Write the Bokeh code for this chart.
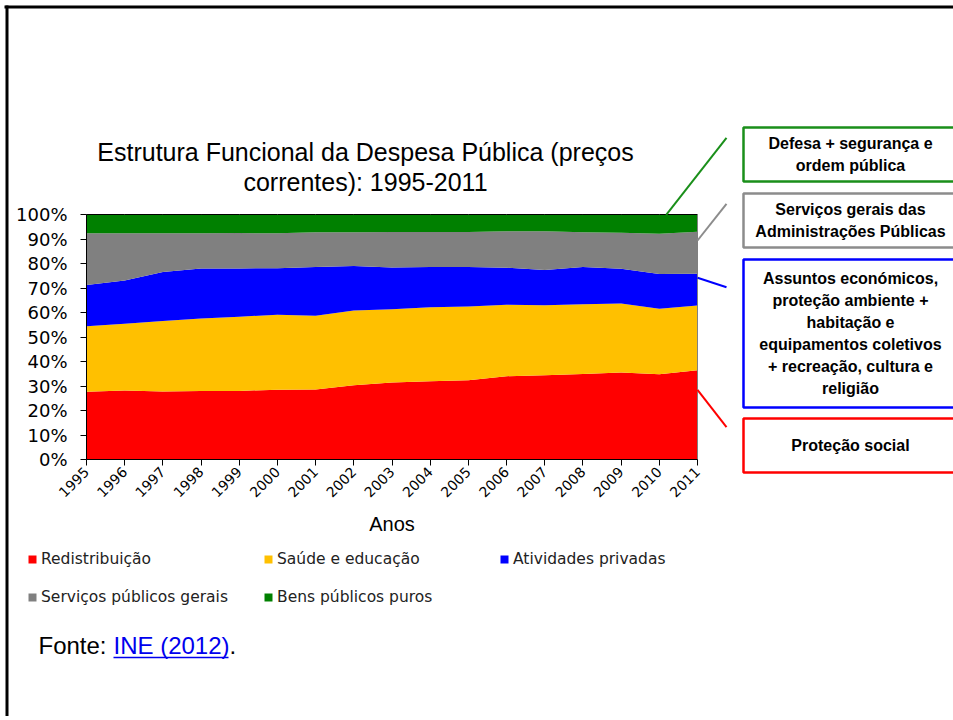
import math
from bokeh.plotting import figure
from bokeh.models import (Label, Legend, LegendItem, Arrow, PolyAnnotation,
                          FixedTicker, PrintfTickFormatter, Range1d, ColumnDataSource)
from bokeh.embed import file_html
from bokeh.resources import INLINE

# ---------------- data (shares of total, %) ----------------
years = [1995, 1996, 1997, 1998, 1999, 2000, 2001, 2002, 2003,
         2004, 2005, 2006, 2007, 2008, 2009, 2010, 2011]
redistribuicao = [27.7, 28.2, 27.8, 28.0, 28.0, 28.5, 28.6, 30.3, 31.4,
                  31.9, 32.3, 34.0, 34.4, 34.9, 35.5, 34.8, 36.4]
saude_educacao = [26.7, 27.2, 28.7, 29.6, 30.3, 30.6, 30.1, 30.5, 29.9,
                  30.2, 30.2, 29.2, 28.6, 28.5, 28.2, 26.7, 26.5]
atividades_privadas = [16.8, 17.7, 20.0, 20.4, 19.7, 19.0, 19.9, 18.2, 17.1,
                       16.5, 16.1, 15.1, 14.3, 15.2, 14.2, 14.2, 12.9]
servicos_publicos = [21.1, 19.2, 15.8, 14.3, 14.4, 14.2, 14.2, 13.8, 14.5,
                     14.3, 14.3, 14.9, 15.9, 14.2, 14.7, 16.4, 17.2]
bens_publicos = [7.7, 7.7, 7.7, 7.7, 7.6, 7.7, 7.2, 7.2, 7.1,
                 7.1, 7.1, 6.8, 6.8, 7.2, 7.4, 7.9, 7.0]

series_names = ["Redistribuição", "Saúde e educação", "Atividades privadas",
                "Serviços públicos gerais", "Bens públicos puros"]
series_keys = ["red", "sau", "ati", "ser", "ben"]
series_colors = ["#FF0000", "#FFC000", "#0000FF", "#808080", "#008000"]
y_ticks = [0, 10, 20, 30, 40, 50, 60, 70, 80, 90, 100]

title_lines = ["Estrutura Funcional da Despesa Pública (preços", "correntes): 1995-2011"]
callouts = [
    (["Defesa + segurança e", "ordem pública"], "#1a8f1a"),
    (["Serviços gerais das", "Administrações Públicas"], "#8c8c8c"),
    (["Assuntos económicos,", "proteção ambiente +", "habitação e",
      "equipamentos coletivos", "+ recreação, cultura e", "religião"], "#0000FF"),
    (["Proteção social"], "#FF0000"),
]

# ---------------- layout (page pixels) ----------------
W, H = 953, 716
PL, PR, PT, PB = 86, 697, 214, 459     # plot area edges on the page

ppx = (PR - PL) / (years[-1] - years[0])   # pixels per year
ppy = (PB - PT) / (y_ticks[-1] - y_ticks[0])  # pixels per percent
x_range = Range1d(years[0] - PL / ppx, years[0] + (W - PL) / ppx)
y_range = Range1d(y_ticks[0] - (H - PB) / ppy, y_ticks[0] + PB / ppy)

def sx(X):
    return X

def sy(Y):
    return H - Y

p = figure(width=W, height=H, output_backend="svg", toolbar_location=None,
           x_range=x_range, y_range=y_range,
           min_border=0, min_border_left=0, min_border_right=0,
           min_border_top=0, min_border_bottom=0)
p.background_fill_color = "white"
p.border_fill_color = "white"
p.outline_line_color = None
p.xgrid.visible = False
p.ygrid.visible = False

totals = [a + b + c + d + e for a, b, c, d, e in zip(redistribuicao, saude_educacao,
                                                      atividades_privadas, servicos_publicos,
                                                      bens_publicos)]
src = ColumnDataSource(dict(year=years, red=redistribuicao, sau=saude_educacao,
                            ati=atividades_privadas, ser=servicos_publicos,
                            ben=bens_publicos, tot=totals))
rends = p.varea_stack(stackers=series_keys, x="year", color=series_colors, source=src)
p.line(x="year", y="tot", source=src, line_color="black", line_width=1)
p.segment(x0=[years[-1]], y0=[0], x1=[years[-1]], y1=[totals[-1]],
          line_color="#808080", line_width=1)

# axes (drawn at the plot-area edges inside the canvas)
p.yaxis.fixed_location = years[0]
p.yaxis.bounds = (y_ticks[0], y_ticks[-1])
p.yaxis.ticker = FixedTicker(ticks=y_ticks)
p.yaxis.formatter = PrintfTickFormatter(format="%d%%")
p.yaxis.minor_tick_line_color = None
p.yaxis.major_tick_in = 0
p.yaxis.major_tick_out = 6
p.yaxis.major_label_standoff = 13
p.yaxis.major_label_text_font = "DejaVu Sans"
p.yaxis.major_label_text_font_size = "18px"
p.yaxis.major_label_text_color = "black"
p.yaxis.axis_line_color = "black"

p.xaxis.fixed_location = y_ticks[0]
p.xaxis.bounds = (years[0], years[-1])
p.xaxis.ticker = FixedTicker(ticks=years)
p.xaxis.minor_tick_line_color = None
p.xaxis.major_tick_in = 0
p.xaxis.major_tick_out = 6
p.xaxis.major_label_orientation = math.pi / 4
p.xaxis.major_label_standoff = 4
p.xaxis.major_label_text_font = "DejaVu Sans"
p.xaxis.major_label_text_font_size = "14px"
p.xaxis.major_label_text_color = "black"
p.xaxis.axis_line_color = "black"
p.xaxis.axis_label = "Anos"
p.xaxis.axis_label_text_font = "Liberation Sans"
p.xaxis.axis_label_text_font_size = "20px"
p.xaxis.axis_label_text_font_style = "normal"
p.xaxis.axis_label_text_color = "black"
p.xaxis.axis_label_standoff = 8

# legend
legend = Legend(items=[LegendItem(label=n, renderers=[r]) for n, r in zip(series_names, rends)],
                location=(sx(27), sy(607)), orientation="horizontal", ncols=3,
                glyph_width=10, glyph_height=10, label_standoff=4, label_width=204,
                label_height=20, spacing=18, padding=0, margin=0,
                border_line_color=None, background_fill_alpha=0,
                label_text_font="DejaVu Sans", label_text_font_size="15.5px",
                label_text_color="#222222")
p.add_layout(legend)

# title
for i, t in enumerate(title_lines):
    p.add_layout(Label(x=sx(365), y=sy(151 + 30 * i), x_units="screen", y_units="screen",
                       text=t, text_align="center", text_baseline="middle",
                       text_font="Liberation Sans", text_font_size="25px", text_color="black"))

def seg(x0, y0, x1, y1, color, width):
    p.add_layout(Arrow(x_start=x0, y_start=y0, x_end=x1, y_end=y1,
                       start_units="screen", end_units="screen", start=None, end=None,
                       line_color=color, line_width=width))

# slide border
seg(sx(4), sy(6.5), sx(960), sy(6.5), "black", 3)
seg(sx(6.5), sy(5), sx(6.5), sy(730), "black", 3)

# callout boxes
box_tb = [(127, 181), (193, 247), (259, 407), (418, 472)]
line_starts = [(665.7, 214.3), (697, 240), (697, 277.3), (697, 389.3)]
line_ends = [(726, 137.3), (726, 203.3), (726, 286.7), (726, 426.7)]
for (lines, col), (top, bot), (a, b) in zip(callouts, box_tb, zip(line_starts, line_ends)):
    p.add_layout(PolyAnnotation(xs=[sx(743), sx(957), sx(957), sx(743)],
                                ys=[sy(top), sy(top), sy(bot), sy(bot)],
                                xs_units="screen", ys_units="screen",
                                fill_alpha=0, line_color=col, line_alpha=1.0,
                                line_width=2.5))
    seg(sx(a[0]), sy(a[1]), sx(b[0]), sy(b[1]), col, 2)
    n = len(lines)
    cy = (top + bot) / 2
    for j, t in enumerate(lines):
        yy = cy + (j - (n - 1) / 2) * 22
        p.add_layout(Label(x=sx(850), y=sy(yy), x_units="screen", y_units="screen",
                           text=t, text_align="center", text_baseline="middle",
                           text_font="Liberation Sans", text_font_style="bold",
                           text_font_size="16px", text_color="black"))

# source
for txt, X, col in [("Fonte: ", 38, "black"), ("INE (2012)", 113, "#0000EE"), (".", 229, "black")]:
    p.add_layout(Label(x=sx(X), y=sy(645), x_units="screen", y_units="screen", text=txt,
                       text_align="left", text_baseline="middle", text_font="Liberation Sans",
                       text_font_size="24px", text_color=col))
seg(sx(113), sy(657), sx(228), sy(657), "#0000EE", 1.5)

open("out.html", "w").write(file_html(p, INLINE))
